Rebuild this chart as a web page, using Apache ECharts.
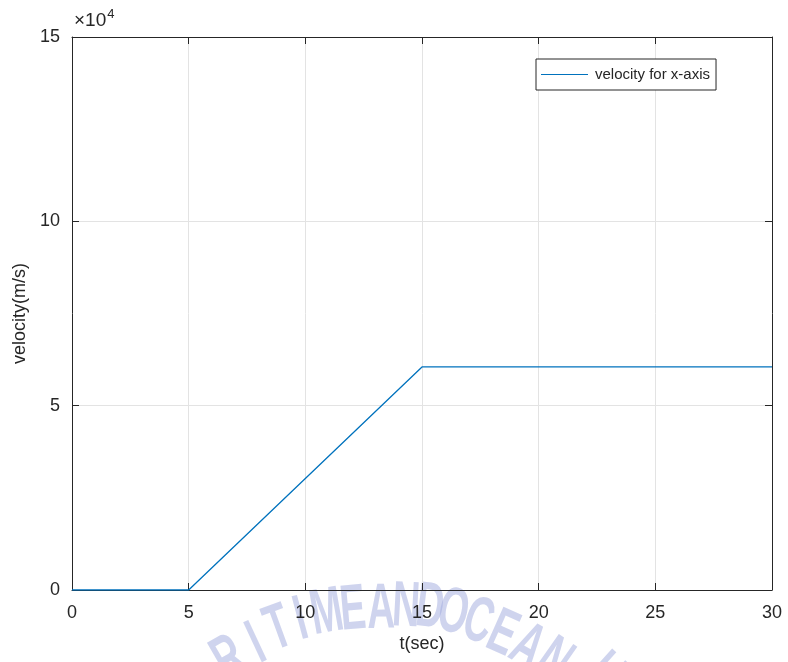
<!DOCTYPE html>
<html><head><meta charset="utf-8">
<script src="https://cdn.jsdelivr.net/npm/echarts@6/dist/echarts.min.js"></script>
<style>html,body{margin:0;padding:0;background:#fff}#c{width:788px;height:662px}</style>
</head><body><div id="c"></div>
<script>
const timeSec = [0, 5, 15, 30];
const velocity = [0, 0, 60500, 60500];
const xTickStep = 5;
const yTickStep = 50000;
const yExponent = 10000;
const seriesName = 'velocity for x-axis';
const watermark = 'RITIME AND OCEAN U';

const chart = echarts.init(document.getElementById('c'));
const FONT = '"Liberation Sans", Arial, sans-serif';
const TXT = '#262626';

// decorative watermark: letter placement (x, y, rotation deg)
const wmPlace = [
  [230, 660, 30], [257, 645, 25], [279, 630, 20], [301, 621, 15], [327, 614, 10], [353, 611, 5],
  null,
  [381, 610, 1], [406, 608, -3], [430, 609, -7],
  null,
  [453, 614, -12], [478, 623, -18], [502, 635, -24], [527, 648, -30], [553, 662, -35],
  null,
  [603, 676, -42]
];
const wm = [];
for (let i = 0; i < watermark.length; i++) {
  const p = wmPlace[i];
  if (!p) continue;
  wm.push({
    type: 'text', silent: true, z: -1,
    x: p[0], y: p[1], rotation: p[2] * Math.PI / 180, scaleX: 0.6,
    style: { text: watermark[i], fill: 'rgba(160,170,222,0.5)',
      font: 'bold 64px "Liberation Sans", Arial, sans-serif',
      align: 'center', verticalAlign: 'middle' }
  });
}

const tickCfg = { show: true, inside: true, length: 7, lineStyle: { color: TXT, width: 1 } };
const lineCfg = { show: true, onZero: false, lineStyle: { color: TXT, width: 1 } };

chart.setOption({
  animation: false,
  backgroundColor: '#fff',
  grid: { left: 72, right: 16, top: 37, bottom: 72, containLabel: false },
  legend: {
    data: [seriesName], left: 536, top: 59,
    backgroundColor: '#fff', borderColor: TXT, borderWidth: 1, borderRadius: 0,
    padding: [8, 6, 8, 5], icon: 'rect', itemWidth: 47, itemHeight: 1.2, itemGap: 0,
    textStyle: { fontFamily: FONT, fontSize: 15, color: TXT, padding: [0, 0, 0, 2] }
  },
  xAxis: [{
    type: 'value', min: 0, max: 30, interval: xTickStep, position: 'bottom',
    name: 't(sec)', nameLocation: 'middle', nameGap: 45,
    nameTextStyle: { fontFamily: FONT, fontSize: 18, color: TXT },
    axisLine: lineCfg, axisTick: tickCfg,
    axisLabel: { fontFamily: FONT, fontSize: 18, color: TXT, margin: 14 },
    splitLine: { show: true, lineStyle: { color: '#e3e3e3', width: 1 } }
  }, {
    type: 'value', min: 0, max: 30, interval: xTickStep, position: 'top',
    axisLine: lineCfg, axisTick: tickCfg,
    axisLabel: { show: false }, splitLine: { show: false }
  }],
  yAxis: [{
    type: 'value', min: 0, max: 150000, interval: yTickStep, position: 'left',
    name: 'velocity(m/s)', nameLocation: 'middle', nameGap: 42,
    nameTextStyle: { fontFamily: FONT, fontSize: 18, color: TXT },
    axisLine: lineCfg, axisTick: tickCfg,
    axisLabel: { fontFamily: FONT, fontSize: 18, color: TXT, margin: 12,
      formatter: v => String(v / yExponent) },
    splitLine: { show: true, lineStyle: { color: '#e3e3e3', width: 1 } }
  }, {
    type: 'value', min: 0, max: 150000, interval: yTickStep, position: 'right',
    axisLine: lineCfg, axisTick: tickCfg,
    axisLabel: { show: false }, splitLine: { show: false }
  }],
  series: [{
    name: seriesName, type: 'line', symbol: 'none',
    data: timeSec.map((t, i) => [t, velocity[i]]),
    lineStyle: { color: '#0072BD', width: 1.3 }, itemStyle: { color: '#0072BD' }
  }],
  graphic: [{
    type: 'text', left: 74, top: 8,
    style: {
      text: '{a|×10}{b|4}',
      rich: {
        a: { fontFamily: FONT, fontSize: 19, fill: TXT, verticalAlign: 'bottom', lineHeight: 22 },
        b: { fontFamily: FONT, fontSize: 13, fill: TXT, verticalAlign: 'top', lineHeight: 22, padding: [0, 0, 8, 1] }
      }
    }
  }].concat(wm)
});
</script></body></html>
